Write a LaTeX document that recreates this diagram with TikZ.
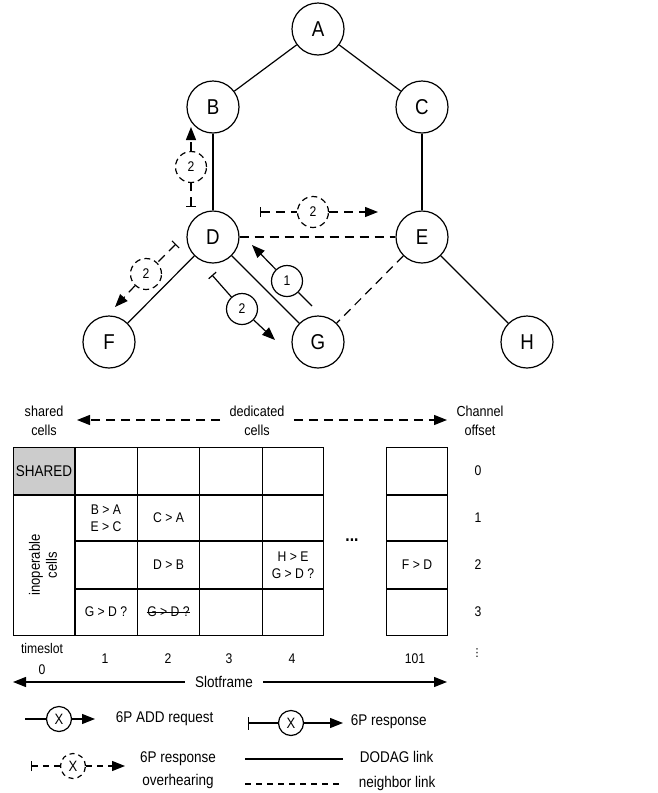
\documentclass[tikz,border=0pt]{standalone}
\usepackage{fontspec}
\setmainfont[FakeStretch=0.87]{Liberation Sans}
\newfontfamily\symfont{DejaVu Sans}
\usetikzlibrary{arrows.meta}
\begin{document}
\begin{tikzpicture}[x=1pt,y=-1pt,line width=1.2pt,
  vertex/.style={circle,draw,minimum size=52pt,inner sep=0pt,font=\fontsize{21.5}{24}\selectfont},
  msg/.style={circle,draw,fill=white,minimum size=31pt,inner sep=0pt,font=\fontsize{14}{16}\selectfont},
  omsg/.style={msg,dash pattern=on 6pt off 4pt},
  lmsg/.style={circle,draw,fill=white,minimum size=25pt,inner sep=0pt,font=\fontsize{15}{17}\selectfont},
  olmsg/.style={lmsg,dash pattern=on 5pt off 4pt},
  nbr/.style={dash pattern=on 9pt off 6pt},
  odash/.style={dash pattern=on 9pt off 6pt},
  tipA/.style={-{Triangle[length=13pt,width=10pt]}},
  barA/.style={{Bar[width=10pt]}-},
  lbl/.style={font=\fontsize{14.5}{19}\selectfont,align=center},
  cell/.style={font=\fontsize{14}{16.5}\selectfont,align=center},
  leg/.style={font=\fontsize{15.5}{23}\selectfont},
  legc/.style={leg,align=center}
]
\useasboundingbox (0,0) rectangle (657,793);

% ---------- tree ----------
\node[vertex] (A) at (318,29) {A};
\node[vertex] (B) at (213,107) {B};
\node[vertex] (C) at (422,107) {C};
\node[vertex] (D) at (213,237) {D};
\node[vertex] (E) at (422,237) {E};
\node[vertex] (F) at (109,342) {F};
\node[vertex] (G) at (318,342) {G};
\node[vertex] (H) at (527,342) {H};

\draw (A) -- (B);
\draw (A) -- (C);
\draw (B) -- (D);
\draw (C) -- (E);
\draw (D) -- (F);
\draw (D) -- (G);
\draw (E) -- (H);
\draw[nbr] (D) -- (E);
\draw[nbr] (E) -- (G);

% overhearing D -> B
\coordinate (o1s) at (191,207);
\node[omsg] (o1) at (191,167) {2};
\coordinate (o1e) at (191,127);
\draw[odash,barA] (o1s) -- (o1);
\draw[odash,tipA] (o1) -- (o1e);

% overhearing D -> E
\coordinate (o2s) at (260,212);
\node[omsg] (o2) at (313,212) {2};
\coordinate (o2e) at (378,212);
\draw[odash,barA] (o2s) -- (o2);
\draw[odash,tipA] (o2) -- (o2e);

% overhearing D -> F
\coordinate (o3s) at (176,244);
\node[omsg] (o3) at (146,274) {2};
\coordinate (o3e) at (115,307);
\draw[odash,barA] (o3s) -- (o3);
\draw[odash,tipA] (o3) -- (o3e);

% response D -> G
\coordinate (r2s) at (212,275);
\node[msg] (r2) at (242,309) {2};
\coordinate (r2e) at (275,340);
\draw[barA] (r2s) -- (r2);
\draw[tipA] (r2) -- (r2e);

% request G -> D
\coordinate (r1s) at (312,306);
\node[msg] (r1) at (287,281) {1};
\coordinate (r1e) at (252,245);
\draw (r1s) -- (r1);
\draw[tipA] (r1) -- (r1e);

% ---------- header ----------
\node[lbl] (shl) at (44,421) {shared\\cells};
\node[lbl,inner xsep=9pt] (ded) at (257,421) {dedicated\\cells};
\node[lbl] (chl) at (480,421) {Channel\\offset};
\coordinate (dl) at (77,420);
\coordinate (dr) at (447,420);
\draw[odash,tipA] (ded.west |- dl) -- (dl);
\draw[odash,tipA] (ded.east |- dr) -- (dr);

% ---------- table ----------
\fill[gray!40] (13.3,447.3) rectangle (75,495);
\draw (13.3,447.3) rectangle (323.3,635.7);
\draw (13.3,495) -- (323.3,495);
\foreach \yy in {541,589} \draw (75,\yy) -- (323.3,\yy);
\foreach \xx in {75,137.7,199.3,262.3} \draw (\xx,447.3) -- (\xx,635.7);
\draw (386.7,447.3) rectangle (447.7,635.7);
\foreach \yy in {495,541,589} \draw (386.7,\yy) -- (447.7,\yy);

\node[font=\fontsize{15.5}{18}\selectfont] (sh) at (44,471) {SHARED};
\node[font=\fontsize{15}{17}\selectfont,align=center,rotate=90] (inop) at (43,565) {inoperable\\cells};

\node[cell] (c11) at (106,518) {B > A\\E > C};
\node[cell] (c21) at (168.5,518) {C > A};
\node[cell] (c22) at (168.5,565) {D > B};
\node[cell] (c42) at (293,565) {H > E\\G > D ?};
\node[cell] (c13) at (106,612) {G > D ?};
\node[cell,inner sep=0pt] (c23) at (168.5,612) {G > D ?};
\draw[line width=0.9pt] ([yshift=-0.5pt]c23.west) -- ([yshift=-0.5pt]c23.east);
\node[cell] (cL2) at (417,565) {F > D};
\node[font=\fontsize{18}{18}\selectfont\bfseries] (dots) at (352,540) {...};

\node[cell] (ch0) at (478,471) {0};
\node[cell] (ch1) at (478,518) {1};
\node[cell] (ch2) at (478,565) {2};
\node[cell] (ch3) at (478,612) {3};

% ---------- timeslots ----------
\node[font=\fontsize{14}{21}\selectfont,align=center] (ts0) at (42,659) {timeslot\\0};
\node[cell] (ts1) at (105,659) {1};
\node[cell] (ts2) at (168,659) {2};
\node[cell] (ts3) at (229,659) {3};
\node[cell] (ts4) at (292,659) {4};
\node[cell] (ts101) at (415,659) {101};
\node[font=\symfont\fontsize{11}{12}\selectfont,inner sep=0pt] (vd) at (477,653) {⋮};

\node[font=\fontsize{15.5}{18}\selectfont,inner xsep=10pt] (sf) at (224,682) {Slotframe};
\coordinate (sfl) at (13,682);
\coordinate (sfr) at (447,682);
\draw[tipA] (sf.west) -- (sfl);
\draw[tipA] (sf.east) -- (sfr);

% ---------- legend ----------
\coordinate (l1s) at (25,719);
\node[lmsg] (l1) at (59,719) {X};
\coordinate (l1e) at (95,719);
\draw (l1s) -- (l1);
\draw[tipA] (l1) -- (l1e);
\node[leg,anchor=west] (l1t) at (112,719) {6P ADD request};

\coordinate (l2s) at (248,723);
\node[lmsg] (l2) at (291,723) {X};
\coordinate (l2e) at (343,723);
\draw[{Bar[width=13pt]}-] (l2s) -- (l2);
\draw[tipA] (l2) -- (l2e);
\node[leg,anchor=west] (l2t) at (347,722) {6P response};

\coordinate (l3s) at (31,766);
\node[olmsg] (l3) at (73,766) {X};
\coordinate (l3e) at (125,766);
\draw[dash pattern=on 6pt off 5pt,barA] (l3s) -- (l3);
\draw[dash pattern=on 6pt off 5pt,tipA] (l3) -- (l3e);
\node[legc] (l3t) at (178,770) {6P response\\overhearing};

\coordinate (l4s) at (245,759);
\coordinate (l4e) at (343,759);
\draw (l4s) -- (l4e);
\node[leg,anchor=west] (l4t) at (356,757) {DODAG link};

\coordinate (l5s) at (245,784);
\coordinate (l5e) at (343,784);
\draw[dash pattern=on 6pt off 5pt] (l5s) -- (l5e);
\node[leg,anchor=west] (l5t) at (355,783) {neighbor link};
\end{tikzpicture}
\end{document}
